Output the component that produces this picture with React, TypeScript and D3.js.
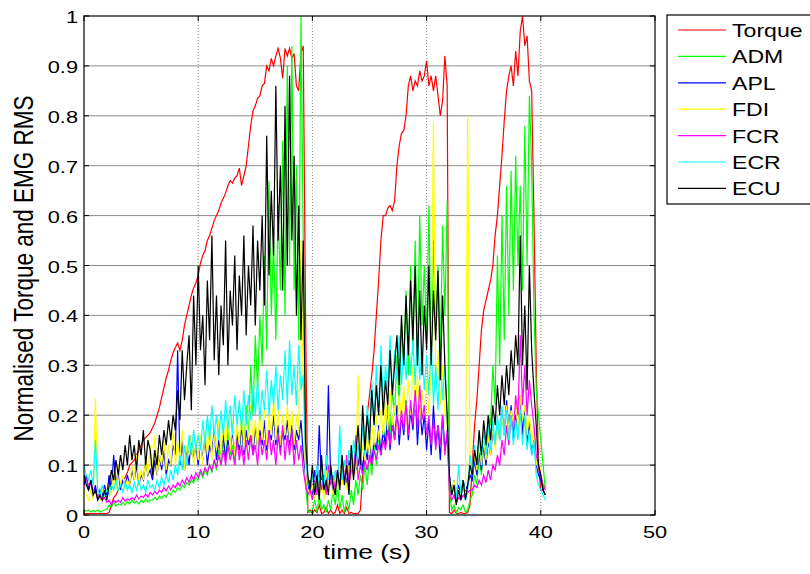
import React from "react";
import * as d3 from "d3";

// Sample period of every recorded channel (seconds)
const SAMPLE_PERIOD = 0.2;

const xTicks = [0, 10, 20, 30, 40, 50];
const yTicks = [0, 0.1, 0.2, 0.3, 0.4, 0.5, 0.6, 0.7, 0.8, 0.9, 1];
const yTickLabels = ["0", "0.1", "0.2", "0.3", "0.4", "0.5", "0.6", "0.7", "0.8", "0.9", "1"];

const seriesNames = ["Torque", "ADM", "APL", "FDI", "FCR", "ECR", "ECU"];
const seriesColors = ["#ff0000", "#00ff00", "#0000ff", "#ffff00", "#ff00ff", "#00ffff", "#000000"];

const torque = [
  0.003, 0.003, 0.003, 0.003, 0.003, 0.003, 0.003, 0.003, 0.003, 0.003,
  0.003, 0.005, 0.02, 0.035, 0.04, 0.05, 0.06, 0.07, 0.075, 0.085,
  0.1, 0.105, 0.11, 0.12, 0.13, 0.14, 0.15, 0.155, 0.16, 0.165,
  0.175, 0.185, 0.2, 0.215, 0.235, 0.255, 0.275, 0.29, 0.31, 0.325,
  0.335, 0.345, 0.33, 0.35, 0.38, 0.4, 0.42, 0.44, 0.455, 0.465,
  0.48, 0.505, 0.52, 0.53, 0.55, 0.56, 0.575, 0.59, 0.6, 0.61,
  0.625, 0.635, 0.645, 0.66, 0.67, 0.665, 0.675, 0.68, 0.695, 0.66,
  0.68, 0.7, 0.74, 0.78, 0.81, 0.82, 0.835, 0.84, 0.86, 0.865,
  0.9, 0.89, 0.915, 0.9, 0.92, 0.935, 0.915, 0.875, 0.935, 0.92,
  0.935, 0.915, 0.925, 0.86, 0.85, 0.925, 0.94, 0.4, 0.005, 0.01,
  0.003, 0.01, 0.005, 0.02, 0.003, 0.005, 0.015, 0.003, 0.01, 0.003,
  0.005, 0.02, 0.003, 0.01, 0.003, 0.015, 0.003, 0.005, 0.003, 0.003,
  0.003, 0.01, 0.08, 0.15, 0.2, 0.24, 0.28, 0.33, 0.4, 0.47,
  0.55, 0.6, 0.6, 0.615, 0.62, 0.61, 0.63, 0.7, 0.74, 0.765,
  0.77, 0.8, 0.86, 0.88, 0.85, 0.87, 0.86, 0.89, 0.87, 0.88,
  0.91, 0.86, 0.88, 0.85, 0.88, 0.84, 0.8, 0.83, 0.92, 0.86,
  0.005, 0.003, 0.01, 0.003, 0.003, 0.005, 0.003, 0.003, 0.005, 0.02,
  0.1, 0.18, 0.23, 0.3, 0.37, 0.41, 0.43, 0.45, 0.47, 0.5,
  0.56, 0.6, 0.66, 0.72, 0.79, 0.85, 0.88, 0.9, 0.86, 0.93,
  0.88, 0.97, 1.0, 0.94, 0.96, 0.87, 0.85, 0.6, 0.3, 0.1,
  0.05, 0.05, 0.06,
];

const adm = [
  0.01, 0.008, 0.01, 0.006, 0.009, 0.007, 0.01, 0.006, 0.008, 0.01,
  0.012, 0.02, 0.015, 0.025, 0.018, 0.022, 0.02, 0.025, 0.02, 0.027,
  0.022, 0.03, 0.024, 0.028, 0.022, 0.03, 0.025, 0.032, 0.026, 0.03,
  0.03, 0.035, 0.03, 0.038, 0.033, 0.04, 0.036, 0.045, 0.04, 0.05,
  0.045, 0.055, 0.05, 0.06, 0.055, 0.065, 0.06, 0.07, 0.065, 0.075,
  0.07, 0.085, 0.075, 0.09, 0.08, 0.1, 0.085, 0.11, 0.09, 0.13,
  0.1, 0.15, 0.11, 0.17, 0.12, 0.14, 0.1, 0.18, 0.12, 0.2,
  0.13, 0.22, 0.15, 0.3, 0.2, 0.36, 0.25, 0.4, 0.3, 0.52,
  0.33, 0.67, 0.4, 0.55, 0.35, 0.62, 0.45, 0.75, 0.4, 0.9,
  0.5, 0.94, 0.45, 0.7, 0.35, 1.0, 0.55, 0.06, 0.01, 0.005,
  0.01, 0.03, 0.005, 0.04, 0.01, 0.02, 0.005, 0.03, 0.01, 0.05,
  0.02, 0.06, 0.01, 0.04, 0.005, 0.03, 0.01, 0.05, 0.02, 0.07,
  0.04, 0.08, 0.05, 0.1, 0.06, 0.12, 0.08, 0.14, 0.1, 0.16,
  0.12, 0.18, 0.14, 0.22, 0.16, 0.25, 0.2, 0.32, 0.22, 0.38,
  0.3, 0.45, 0.28, 0.5, 0.32, 0.55, 0.3, 0.6, 0.38, 0.5,
  0.35, 0.62, 0.3, 0.55, 0.38, 0.5, 0.32, 0.58, 0.4, 0.63,
  0.05, 0.01, 0.02, 0.005, 0.015, 0.01, 0.02, 0.005, 0.01, 0.03,
  0.04, 0.08, 0.06, 0.12, 0.08, 0.15, 0.1, 0.2, 0.18, 0.3,
  0.22, 0.52, 0.3, 0.6, 0.35, 0.66, 0.4, 0.69, 0.45, 0.72,
  0.5, 0.66, 0.45, 0.78, 0.5, 0.84, 0.7, 0.41, 0.25, 0.2,
  0.15, 0.1, 0.05,
];

const apl = [
  0.06, 0.08, 0.05, 0.07, 0.04, 0.06, 0.03, 0.05, 0.04, 0.06,
  0.04, 0.08, 0.05, 0.12, 0.06, 0.09, 0.05, 0.07, 0.06, 0.08,
  0.06, 0.09, 0.07, 0.1, 0.06, 0.08, 0.07, 0.11, 0.08, 0.09,
  0.07, 0.11, 0.08, 0.12, 0.09, 0.13, 0.08, 0.11, 0.1, 0.14,
  0.12, 0.33, 0.1, 0.15, 0.09, 0.13, 0.1, 0.16, 0.11, 0.14,
  0.1, 0.15, 0.11, 0.16, 0.1, 0.14, 0.12, 0.17, 0.11, 0.15,
  0.12, 0.16, 0.11, 0.15, 0.13, 0.17, 0.12, 0.16, 0.13, 0.18,
  0.12, 0.17, 0.14, 0.16, 0.12, 0.18, 0.13, 0.17, 0.14, 0.19,
  0.13, 0.17, 0.15, 0.2, 0.14, 0.18, 0.13, 0.17, 0.15, 0.19,
  0.14, 0.18, 0.13, 0.17, 0.15, 0.19, 0.12, 0.08, 0.05, 0.07,
  0.04, 0.09, 0.05, 0.18, 0.06, 0.08, 0.05, 0.26, 0.07, 0.05,
  0.08, 0.06, 0.1, 0.07, 0.09, 0.06, 0.11, 0.08, 0.12, 0.09,
  0.1, 0.13, 0.09, 0.14, 0.11, 0.16, 0.1, 0.15, 0.13, 0.18,
  0.12, 0.17, 0.14, 0.2, 0.13, 0.19, 0.15, 0.22, 0.14, 0.2,
  0.16, 0.23, 0.15, 0.21, 0.17, 0.25, 0.14, 0.22, 0.16, 0.2,
  0.13, 0.19, 0.12, 0.22, 0.14, 0.18, 0.11, 0.2, 0.13, 0.16,
  0.06, 0.04, 0.07, 0.03, 0.06, 0.04, 0.07, 0.05, 0.06, 0.08,
  0.07, 0.11, 0.08, 0.13, 0.09, 0.14, 0.1, 0.15, 0.12, 0.17,
  0.14, 0.19, 0.15, 0.21, 0.16, 0.23, 0.17, 0.22, 0.15, 0.2,
  0.17, 0.24, 0.16, 0.22, 0.14, 0.19, 0.12, 0.15, 0.1, 0.08,
  0.07, 0.05, 0.04,
];

const fdi = [
  0.05, 0.04, 0.03, 0.05, 0.03, 0.235, 0.04, 0.03, 0.05, 0.04,
  0.03, 0.06, 0.04, 0.08, 0.05, 0.1, 0.06, 0.08, 0.05, 0.07,
  0.06, 0.1, 0.07, 0.12, 0.06, 0.09, 0.07, 0.11, 0.08, 0.14,
  0.09, 0.16, 0.08, 0.12, 0.1, 0.15, 0.09, 0.14, 0.1, 0.17,
  0.1, 0.15, 0.11, 0.17, 0.09, 0.14, 0.12, 0.16, 0.1, 0.15,
  0.11, 0.16, 0.1, 0.17, 0.12, 0.18, 0.11, 0.16, 0.13, 0.19,
  0.12, 0.18, 0.14, 0.2, 0.13, 0.19, 0.12, 0.18, 0.14, 0.21,
  0.13, 0.2, 0.15, 0.22, 0.14, 0.19, 0.13, 0.21, 0.15, 0.22,
  0.14, 0.2, 0.16, 0.23, 0.15, 0.21, 0.14, 0.2, 0.16, 0.22,
  0.15, 0.21, 0.14, 0.2, 0.16, 0.55, 0.25, 0.08, 0.05, 0.04,
  0.06, 0.03, 0.08, 0.04, 0.07, 0.03, 0.09, 0.05, 0.07, 0.04,
  0.08, 0.05, 0.1, 0.06, 0.09, 0.05, 0.1, 0.07, 0.12, 0.08,
  0.28, 0.1, 0.14, 0.11, 0.16, 0.12, 0.18, 0.14, 0.2, 0.15,
  0.21, 0.16, 0.23, 0.17, 0.25, 0.18, 0.22, 0.17, 0.24, 0.19,
  0.26, 0.18, 0.27, 0.2, 0.3, 0.21, 0.28, 0.19, 0.25, 0.2,
  0.27, 0.2, 0.3, 0.79, 0.25, 0.33, 0.22, 0.3, 0.2, 0.18,
  0.06, 0.04, 0.07, 0.03, 0.05, 0.04, 0.06, 0.05, 0.8, 0.12,
  0.08, 0.12, 0.09, 0.14, 0.1, 0.15, 0.11, 0.16, 0.12, 0.18,
  0.13, 0.19, 0.15, 0.2, 0.16, 0.22, 0.17, 0.21, 0.18, 0.23,
  0.17, 0.24, 0.19, 0.22, 0.16, 0.2, 0.14, 0.18, 0.1, 0.12,
  0.08, 0.06, 0.05,
];

const fcr = [
  0.08, 0.07, 0.06, 0.065, 0.05, 0.045, 0.04, 0.035, 0.03, 0.035,
  0.025, 0.03, 0.02, 0.03, 0.025, 0.03, 0.025, 0.035, 0.028, 0.032,
  0.03, 0.035, 0.03, 0.04, 0.032, 0.038, 0.035, 0.042, 0.036, 0.045,
  0.04, 0.048, 0.042, 0.05, 0.045, 0.055, 0.048, 0.058, 0.05, 0.06,
  0.055, 0.065, 0.058, 0.07, 0.062, 0.075, 0.065, 0.08, 0.07, 0.085,
  0.075, 0.09, 0.08, 0.095, 0.085, 0.1, 0.09, 0.11, 0.095, 0.12,
  0.1, 0.13, 0.1, 0.14, 0.11, 0.13, 0.1, 0.15, 0.11, 0.14,
  0.1, 0.15, 0.11, 0.16, 0.12, 0.14, 0.1, 0.16, 0.12, 0.15,
  0.11, 0.17, 0.12, 0.15, 0.1, 0.16, 0.12, 0.18, 0.11, 0.16,
  0.12, 0.17, 0.1, 0.15, 0.11, 0.14, 0.09, 0.06, 0.04, 0.05,
  0.03, 0.07, 0.04, 0.09, 0.05, 0.08, 0.04, 0.1, 0.06, 0.08,
  0.05, 0.09, 0.06, 0.1, 0.07, 0.12, 0.06, 0.1, 0.08, 0.16,
  0.07, 0.1, 0.08, 0.11, 0.09, 0.12, 0.1, 0.13, 0.11, 0.14,
  0.12, 0.15, 0.13, 0.17, 0.14, 0.18, 0.15, 0.2, 0.16, 0.21,
  0.17, 0.22, 0.16, 0.23, 0.18, 0.25, 0.17, 0.26, 0.19, 0.22,
  0.16, 0.2, 0.14, 0.19, 0.13, 0.18, 0.14, 0.2, 0.12, 0.17,
  0.05, 0.03, 0.04, 0.025, 0.035, 0.03, 0.04, 0.035, 0.045, 0.05,
  0.05, 0.06, 0.055, 0.07, 0.06, 0.08, 0.065, 0.09, 0.07, 0.1,
  0.09, 0.12, 0.1, 0.15, 0.12, 0.18, 0.14, 0.2, 0.16, 0.24,
  0.2, 0.36, 0.22, 0.3, 0.2, 0.27, 0.22, 0.18, 0.12, 0.1,
  0.08, 0.06, 0.05,
];

const ecr = [
  0.1, 0.08, 0.07, 0.09, 0.06, 0.15, 0.05, 0.04, 0.06, 0.04,
  0.05, 0.04, 0.06, 0.05, 0.07, 0.05, 0.06, 0.045, 0.065, 0.05,
  0.06, 0.045, 0.065, 0.05, 0.07, 0.05, 0.06, 0.045, 0.07, 0.055,
  0.06, 0.05, 0.07, 0.055, 0.075, 0.06, 0.08, 0.065, 0.09, 0.07,
  0.1, 0.08, 0.12, 0.09, 0.14, 0.1, 0.16, 0.12, 0.17, 0.13,
  0.16, 0.13, 0.19, 0.14, 0.2, 0.15, 0.22, 0.16, 0.2, 0.15,
  0.21, 0.16, 0.23, 0.17, 0.22, 0.16, 0.24, 0.18, 0.23, 0.17,
  0.25, 0.18, 0.24, 0.19, 0.26, 0.2, 0.27, 0.19, 0.25, 0.21,
  0.29, 0.2, 0.27, 0.22, 0.3, 0.21, 0.28, 0.23, 0.33, 0.22,
  0.35, 0.24, 0.3, 0.22, 0.34, 0.25, 0.28, 0.12, 0.07, 0.05,
  0.08, 0.05, 0.1, 0.06, 0.09, 0.05, 0.12, 0.07, 0.1, 0.06,
  0.09, 0.06, 0.18, 0.07, 0.11, 0.08, 0.13, 0.09, 0.15, 0.11,
  0.14, 0.1, 0.18, 0.12, 0.22, 0.15, 0.27, 0.18, 0.3, 0.2,
  0.34, 0.22, 0.3, 0.25, 0.36, 0.24, 0.33, 0.27, 0.36, 0.26,
  0.34, 0.27, 0.37, 0.28, 0.35, 0.26, 0.38, 0.27, 0.34, 0.25,
  0.32, 0.24, 0.35, 0.22, 0.3, 0.21, 0.33, 0.23, 0.3, 0.2,
  0.08, 0.04, 0.06, 0.03, 0.1, 0.04, 0.07, 0.03, 0.05, 0.12,
  0.09, 0.14, 0.1, 0.16, 0.11, 0.17, 0.12, 0.18, 0.13, 0.19,
  0.14, 0.2, 0.15, 0.22, 0.16, 0.21, 0.15, 0.2, 0.14, 0.19,
  0.15, 0.21, 0.14, 0.2, 0.13, 0.17, 0.12, 0.15, 0.08, 0.06,
  0.05, 0.04, 0.03,
];

const ecu = [
  0.08, 0.06, 0.05, 0.07, 0.04, 0.05, 0.03, 0.04, 0.03, 0.05,
  0.03, 0.06, 0.09, 0.07, 0.11, 0.08, 0.12, 0.09, 0.14, 0.1,
  0.16, 0.11, 0.14, 0.09, 0.15, 0.12, 0.17, 0.1, 0.15, 0.13,
  0.08, 0.13, 0.1, 0.16, 0.12, 0.17, 0.14, 0.19, 0.15, 0.2,
  0.17, 0.25, 0.19, 0.33, 0.23, 0.3, 0.36, 0.21, 0.44, 0.3,
  0.5, 0.33, 0.4, 0.26, 0.47, 0.35, 0.56, 0.31, 0.44, 0.28,
  0.42, 0.34, 0.55, 0.3, 0.45, 0.38, 0.52, 0.33, 0.48, 0.4,
  0.56, 0.36, 0.5, 0.42, 0.58, 0.38, 0.55, 0.45, 0.6, 0.42,
  0.76, 0.48, 0.65, 0.52, 0.86, 0.55, 0.7, 0.45, 0.82, 0.5,
  0.88, 0.55, 0.72, 0.4, 0.62, 0.35, 0.55, 0.15, 0.08, 0.05,
  0.1, 0.04, 0.08, 0.03, 0.12, 0.05, 0.07, 0.04, 0.1, 0.06,
  0.04, 0.09, 0.05, 0.12, 0.06, 0.1, 0.04, 0.14, 0.07, 0.12,
  0.18, 0.1, 0.22, 0.13, 0.2, 0.15, 0.25, 0.18, 0.26, 0.2,
  0.3, 0.2, 0.27, 0.22, 0.33, 0.24, 0.3, 0.36, 0.26, 0.4,
  0.3, 0.44, 0.32, 0.47, 0.35, 0.5, 0.3, 0.45, 0.28, 0.42,
  0.33, 0.5, 0.3, 0.45, 0.35, 0.49, 0.27, 0.44, 0.3, 0.2,
  0.08, 0.04, 0.06, 0.02, 0.05, 0.03, 0.07, 0.03, 0.06, 0.1,
  0.08, 0.13, 0.1, 0.17, 0.12, 0.19, 0.14, 0.2, 0.15, 0.22,
  0.18, 0.26, 0.2, 0.28, 0.22, 0.3, 0.24, 0.33, 0.27, 0.36,
  0.3, 0.56, 0.3, 0.42, 0.25, 0.5, 0.33, 0.25, 0.18, 0.1,
  0.08, 0.05, 0.04,
];

const seriesValues = [torque, adm, apl, fdi, fcr, ecr, ecu];

const W = 810;
const H = 574;
const margin = { left: 84, right: 155, top: 16, bottom: 59 };
const FONT = "Arial, 'Liberation Sans', Helvetica, sans-serif";
// text in this figure is drawn wider than its height
const TEXT_STRETCH = 1.32;

function WideText(props: {
  x: number;
  y: number;
  size: number;
  anchor?: "start" | "middle" | "end";
  children: React.ReactNode;
}) {
  return (
    <text
      transform={`translate(${props.x},${props.y}) scale(${TEXT_STRETCH},1)`}
      textAnchor={props.anchor || "start"}
      fontSize={props.size}
      fill="#000"
    >
      {props.children}
    </text>
  );
}

export default function App() {
  const x = d3.scaleLinear().domain([0, 50]).range([margin.left, W - margin.right]);
  const y = d3.scaleLinear().domain([0, 1]).range([H - margin.bottom, margin.top]);
  const [x0, x1] = x.range();
  const [y0, y1] = y.range();

  const line = d3
    .line<number>()
    .x((_, i) => x(i * SAMPLE_PERIOD))
    .y((d) => y(d));

  const legendX = 667;
  const legendY = 15;
  const rowH = 26.4;

  return (
    <svg
      width={W}
      height={H}
      style={{ position: "absolute", left: 0, top: 0, background: "#fff" }}
      fontFamily={FONT}
    >
      <defs>
        <clipPath id="plot-clip">
          <rect x={x0} y={y1 - 1} width={x1 - x0} height={y0 - y1 + 1} />
        </clipPath>
      </defs>

      {/* grid */}
      {yTicks.slice(1, -1).map((t) => (
        <line key={"gy" + t} x1={x0} x2={x1} y1={y(t)} y2={y(t)} stroke="#8c8c8c" strokeWidth={1} />
      ))}
      {xTicks.slice(1, -1).map((t) => (
        <line
          key={"gx" + t}
          x1={x(t)}
          x2={x(t)}
          y1={y0}
          y2={y1}
          stroke="#8c8c8c"
          strokeWidth={1}
          strokeDasharray="1,2"
        />
      ))}

      {/* signals */}
      <g clipPath="url(#plot-clip)">
        {seriesValues.map((vals, k) => (
          <path
            key={seriesNames[k]}
            d={line(vals) || ""}
            fill="none"
            stroke={seriesColors[k]}
            strokeWidth={1.2}
            strokeLinejoin="miter"
          />
        ))}
      </g>

      {/* axes box and ticks */}
      <rect x={x0} y={y1} width={x1 - x0} height={y0 - y1} fill="none" stroke="#000" strokeWidth={1.2} />
      {xTicks.map((t) => (
        <g key={"xt" + t}>
          <line x1={x(t)} x2={x(t)} y1={y0} y2={y0 - 5} stroke="#000" />
          <line x1={x(t)} x2={x(t)} y1={y1} y2={y1 + 5} stroke="#000" />
          <WideText x={x(t)} y={y0 + 23} size={16.5} anchor="middle">
            {t}
          </WideText>
        </g>
      ))}
      {yTicks.map((t, i) => (
        <g key={"yt" + t}>
          <line x1={x0} x2={x0 + 5} y1={y(t)} y2={y(t)} stroke="#000" />
          <line x1={x1} x2={x1 - 5} y1={y(t)} y2={y(t)} stroke="#000" />
          <WideText x={x0 - 6} y={y(t) + 7} size={16.5} anchor="end">
            {yTickLabels[i]}
          </WideText>
        </g>
      ))}

      <WideText x={367} y={559} size={20} anchor="middle">
        time (s)
      </WideText>
      <text
        transform={`translate(33,${(y0 + y1) / 2 + 3}) rotate(-90) scale(1,1.25)`}
        textAnchor="middle"
        fontSize={22.5}
        fill="#000"
      >
        Normalised Torque and EMG RMS
      </text>

      {/* legend */}
      <rect x={legendX} y={legendY} width={160} height={189} fill="#fff" stroke="#000" strokeWidth={1.2} />
      {seriesNames.map((name, k) => {
        const cy = legendY + 15 + k * rowH;
        return (
          <g key={"lg" + name}>
            <line x1={legendX + 11} x2={legendX + 59} y1={cy} y2={cy} stroke={seriesColors[k]} strokeWidth={1.2} />
            <WideText x={legendX + 65} y={cy + 7} size={17.5}>
              {name}
            </WideText>
          </g>
        );
      })}
    </svg>
  );
}
